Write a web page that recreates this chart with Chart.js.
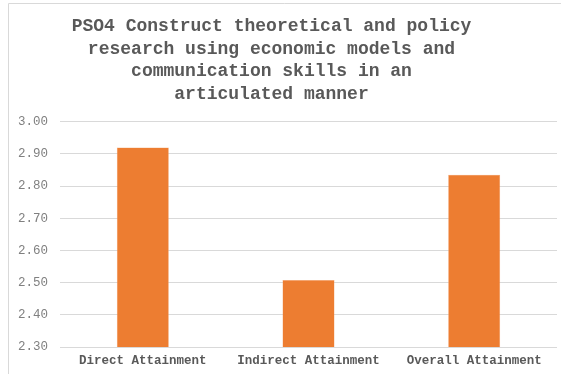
<!DOCTYPE html>
<html>
<head>
<meta charset="utf-8">
<script src="https://cdn.jsdelivr.net/npm/chart.js@4/dist/chart.umd.min.js"></script>
<style>
  html, body { margin: 0; padding: 0; background: #fff; }
  #wrap { width: 561px; height: 374px; position: relative; }
</style>
</head>
<body>
<div id="wrap"><canvas id="chart" width="561" height="374"></canvas></div>
<script>
const categories = ['Direct Attainment', 'Indirect Attainment', 'Overall Attainment']
const attainment = [2.92, 2.508, 2.835]
const titleLines = [
  'PSO4 Construct theoretical and policy',
  'research using economic models and',
  'communication skills in an',
  'articulated manner'
]

// light frame of the chart area, only top and left edges show in the crop
// also nudges the title a bit left, like the original
const framePlugin = {
  id: 'frame',
  afterLayout(chart) {
    const t = chart.titleBlock
    if (t) {
      t.left -= 11
      t.right -= 11
    }
  },
  beforeDraw(chart) {
    const ctx = chart.ctx
    ctx.save()
    ctx.strokeStyle = '#d9d9d9'
    ctx.lineWidth = 1
    ctx.beginPath()
    ctx.moveTo(8.5, 374)
    ctx.lineTo(8.5, 3.5)
    ctx.lineTo(561, 3.5)
    ctx.stroke()
    ctx.restore()
  }
}

new Chart(document.getElementById('chart').getContext('2d'), {
  type: 'bar',
  data: {
    labels: categories,
    datasets: [
      {
        label: 'Attainment',
        data: attainment,
        backgroundColor: '#ED7D31',
        borderColor: '#F4A672',
        borderWidth: 0.5,
        categoryPercentage: 1,
        barPercentage: 0.314
      }
    ]
  },
  plugins: [framePlugin],
  options: {
    responsive: false,
    animation: false,
    layout: { padding: { left: 8, right: 4, top: 5, bottom: 0 } },
    plugins: {
      legend: { display: false },
      tooltip: { enabled: false },
      title: {
        display: true,
        text: titleLines,
        color: '#595959',
        font: { family: 'Liberation Mono', size: 18, weight: 'bold', lineHeight: 1.26 },
        padding: { top: 10, bottom: 16 }
      }
    },
    scales: {
      x: {
        grid: { display: false, drawTicks: false },
        border: { display: false },
        ticks: {
          color: '#595959',
          font: { family: 'Liberation Mono', size: 12.5, weight: 'bold' },
          padding: 6,
          maxRotation: 0
        }
      },
      y: {
        min: 2.3,
        max: 3.0,
        afterFit(scale) { scale.width = 52 },
        grid: { color: '#d9d9d9', lineWidth: 1, drawTicks: false },
        border: { display: false },
        ticks: {
          stepSize: 0.1,
          color: '#808080',
          font: { family: 'Liberation Mono', size: 12.5 },
          padding: 12,
          callback: (value) => value.toFixed(2)
        }
      }
    }
  }
})
</script>
</body>
</html>
